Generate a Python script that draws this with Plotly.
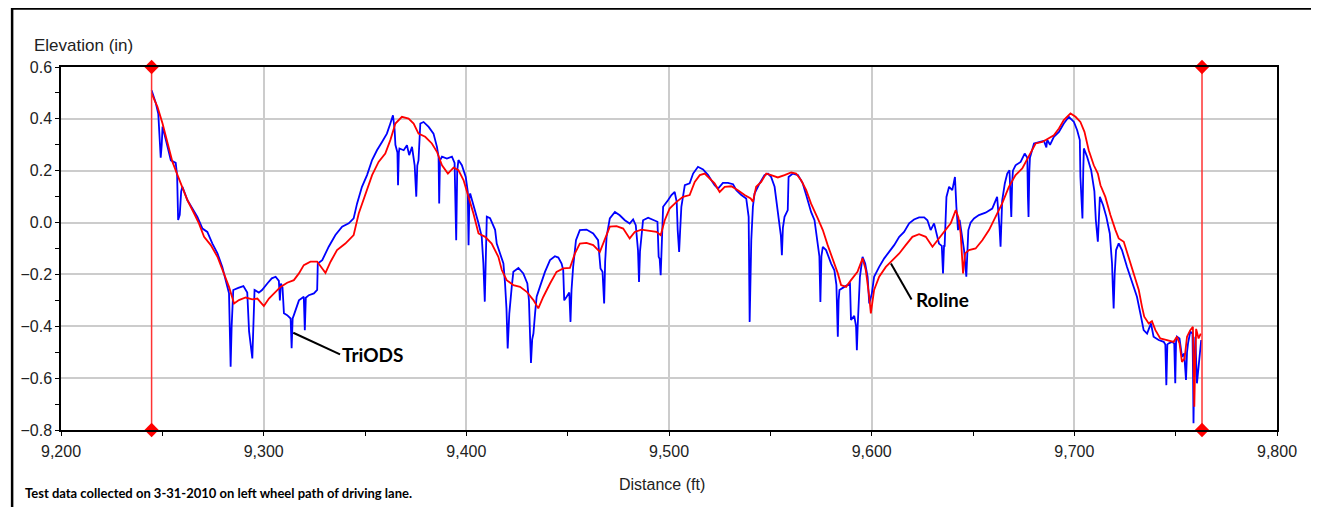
import plotly.graph_objects as go

# ---------------- data ----------------
triods_dist = [
    9244.7, 9246.8, 9248.0, 9248.6, 9249.2, 9249.7, 9250.1, 9251.7, 9254.2, 9256.6, 9257.3, 9257.8, 9258.6, 9259.3,
    9259.9, 9262.4, 9264.9, 9267.3, 9269.8, 9272.2, 9274.7, 9277.2, 9279.6, 9281.8, 9282.9, 9283.4, 9283.7, 9284.2,
    9285.0, 9287.5, 9290.0, 9291.9, 9292.8, 9294.4, 9294.9, 9295.5, 9297.6, 9299.2, 9301.8, 9304.0, 9305.9, 9307.5,
    9308.0, 9308.5, 9309.3, 9310.0, 9311.6, 9313.3, 9313.8, 9314.3, 9314.9, 9317.4, 9319.8, 9320.3, 9320.8, 9322.3,
    9324.8, 9326.4, 9326.7, 9328.9,
    9332.1, 9335.4, 9338.7, 9342.0, 9344.4, 9346.1, 9348.5, 9351.0, 9353.5, 9355.9, 9358.4, 9360.8, 9362.5, 9363.8,
    9364.6, 9365.0, 9366.0, 9366.3, 9366.7, 9367.0, 9369.1, 9370.7, 9371.8, 9373.2, 9374.5, 9375.3, 9375.8, 9376.4,
    9377.3, 9378.9, 9381.4, 9383.8, 9385.5, 9386.3, 9386.6, 9387.0, 9388.0, 9390.4, 9392.9, 9394.2, 9395.0, 9395.5,
    9396.1, 9397.8, 9399.7, 9400.7, 9401.1, 9401.5, 9401.9, 9404.3, 9406.0, 9407.6, 9408.4, 9409.1, 9409.6, 9410.1,
    9411.7, 9414.2, 9415.0, 9416.6,
    9418.3, 9419.1, 9419.8, 9420.4, 9421.2, 9422.4, 9423.2, 9425.7, 9428.1, 9430.1, 9430.9, 9431.5, 9431.9, 9432.5,
    9433.1, 9433.9, 9434.7, 9436.3, 9438.8, 9441.3, 9443.7, 9445.4, 9447.0, 9447.8, 9448.3, 9449.5, 9450.8, 9451.4,
    9451.9, 9452.7, 9454.1, 9456.0, 9459.3, 9462.6, 9465.0, 9466.2, 9467.2, 9468.0, 9468.5, 9469.2, 9470.8, 9473.3,
    9475.7, 9478.2, 9480.6, 9482.3, 9483.6, 9484.7, 9485.2, 9485.7, 9486.3, 9487.2, 9489.7, 9492.1, 9494.3, 9494.9,
    9495.4, 9495.9, 9496.3, 9496.6, 9497.1, 9499.5, 9501.2, 9502.8,
    9503.8, 9504.3, 9505.0, 9505.5, 9506.1, 9507.8, 9510.2, 9511.9, 9514.3, 9516.8, 9519.3, 9520.9, 9522.5, 9524.2,
    9526.6, 9529.1, 9531.6, 9533.2, 9535.7, 9538.1, 9539.3, 9539.8, 9540.3, 9540.6, 9541.4, 9542.2, 9544.7, 9547.1,
    9548.8, 9550.4, 9552.1, 9553.4, 9554.5, 9555.2, 9555.7, 9556.2, 9557.0, 9558.6, 9559.0, 9561.1, 9563.6, 9566.0,
    9567.7, 9570.1, 9571.8, 9573.4, 9574.2, 9574.7, 9575.2, 9575.9, 9577.5, 9580.0, 9581.6, 9582.6, 9583.3, 9583.7,
    9584.1, 9586.5, 9589.3,
    9589.8, 9591.4, 9592.3, 9592.7, 9593.1, 9593.5, 9594.2, 9595.5, 9596.8, 9598.0, 9598.8, 9600.1, 9601.2, 9603.7,
    9606.2, 9608.6, 9611.1, 9613.6, 9616.0, 9618.5, 9620.9, 9623.4, 9625.9, 9627.5, 9629.1, 9630.8, 9631.9, 9633.2,
    9634.6, 9635.2, 9635.7, 9636.0, 9636.9, 9638.2, 9639.8, 9641.1, 9641.8, 9642.6, 9643.4, 9644.7, 9645.6, 9646.7,
    9647.2, 9647.7, 9648.8, 9650.5, 9652.9, 9656.2, 9659.5, 9661.9, 9663.1, 9663.6, 9664.1, 9664.4, 9665.7, 9666.9,
    9668.0, 9668.5, 9668.9, 9669.3, 9669.7, 9671.0, 9673.5, 9675.5,
    9676.8, 9677.1, 9677.4, 9677.8, 9678.1, 9680.1, 9683.3, 9685.0, 9686.2, 9686.6, 9688.0, 9689.9, 9692.4, 9694.8,
    9697.3, 9699.8, 9701.4, 9702.7, 9703.0, 9703.6, 9704.0, 9704.4, 9704.7, 9706.3, 9708.3, 9709.9, 9710.6, 9711.6,
    9712.1, 9712.6, 9714.2, 9715.8, 9717.5, 9718.6, 9719.0, 9719.4, 9719.9, 9720.6, 9721.9, 9723.5, 9726.0, 9728.5,
    9730.9, 9732.9, 9734.2, 9735.9, 9737.8, 9739.1, 9741.6, 9744.1, 9744.9, 9745.4, 9745.9, 9746.5, 9748.2, 9749.3,
    9749.8, 9750.2, 9750.6, 9751.9, 9753.1, 9754.2, 9754.7, 9755.1, 9755.6, 9756.1, 9757.2, 9758.3, 9758.6, 9758.8,
    9759.1, 9759.7, 9760.5, 9761.6, 9762.6,
]
triods_elev = [
    0.51, 0.46, 0.42, 0.30, 0.25, 0.30, 0.37, 0.32, 0.24, 0.23, 0.18, 0.01, 0.03, 0.12,
    0.138, 0.086, 0.054, 0.022, -0.023, -0.036, -0.081, -0.119, -0.171, -0.235, -0.273, -0.45, -0.556, -0.40,
    -0.26, -0.252, -0.245, -0.27, -0.42, -0.524, -0.40, -0.26, -0.27, -0.26, -0.235, -0.215, -0.209, -0.225,
    -0.30, -0.235, -0.25, -0.35, -0.357, -0.37, -0.485, -0.37, -0.357, -0.30, -0.286, -0.415, -0.29, -0.28,
    -0.273, -0.26, -0.158, -0.145,
    -0.093, -0.048, -0.016, -0.003, 0.016, 0.074, 0.138, 0.183, 0.241, 0.279, 0.311, 0.343, 0.382, 0.414,
    0.36, 0.30, 0.27, 0.144, 0.27, 0.286, 0.279, 0.298, 0.26, 0.292, 0.221, 0.10, 0.22, 0.24,
    0.382, 0.388, 0.369, 0.343, 0.292, 0.254, 0.074, 0.24, 0.254, 0.247, 0.254, 0.23, -0.068, 0.20,
    0.241, 0.221, 0.176, 0.12, -0.087, 0.10, 0.112, 0.048, -0.003, -0.055, -0.158, -0.305, -0.10, 0.023,
    0.017, -0.028, -0.081, -0.119,
    -0.158, -0.235, -0.33, -0.486, -0.351, -0.248, -0.19, -0.175, -0.196, -0.235, -0.30, -0.45, -0.541, -0.45,
    -0.428, -0.351, -0.286, -0.248, -0.19, -0.145, -0.13, -0.135, -0.158, -0.183, -0.30, -0.286, -0.27, -0.383,
    -0.26, -0.171, -0.068, -0.029, -0.027, -0.042, -0.068, -0.177, -0.19, -0.312, -0.15, -0.055, 0.016, 0.041,
    0.028, 0.009, -0.004, 0.012, -0.01, -0.106, -0.229, -0.11, -0.05, 0.009, 0.019, 0.009, 0.003, -0.132,
    -0.14, -0.203, -0.10, -0.068, 0.061, 0.086, 0.106, 0.118,
    0.08, -0.03, -0.113, -0.03, 0.061, 0.144, 0.151, 0.189, 0.215, 0.205, 0.183, 0.163, 0.144, 0.131,
    0.153, 0.153, 0.148, 0.125, 0.106, 0.093, 0.022, -0.383, -0.10, -0.068, 0.061, 0.112, 0.151, 0.183,
    0.189, 0.176, 0.138, 0.061, -0.004, -0.05, -0.126, -0.02, 0.022, 0.048, 0.176, 0.189, 0.183, 0.151,
    0.106, 0.041, 0.009, -0.094, -0.13, -0.306, -0.13, -0.094, -0.106, -0.158, -0.184, -0.24, -0.44, -0.30,
    -0.26, -0.248, -0.235,
    -0.376, -0.36, -0.40, -0.492, -0.40, -0.338, -0.209, -0.132, -0.158, -0.209, -0.312, -0.273, -0.209, -0.171,
    -0.138, -0.113, -0.087, -0.055, -0.036, -0.003, 0.012, 0.02, 0.02, 0.009, -0.029, -0.003, -0.04, -0.081,
    -0.09, -0.196, -0.09, -0.09, 0.099, 0.138, 0.125, 0.176, 0.061, -0.029, 0.01, -0.055, -0.106, -0.209,
    -0.10, -0.029, 0.0, 0.016, 0.029, 0.038, 0.054, 0.099, -0.02, -0.093, 0.02, 0.085, 0.151, 0.189,
    0.202, 0.10, 0.022, 0.15, 0.20, 0.221, 0.234, 0.266,
    0.25, 0.10, 0.022, 0.20, 0.25, 0.305, 0.311, 0.315, 0.29, 0.32, 0.30, 0.331, 0.35, 0.382,
    0.408, 0.388, 0.356, 0.318, 0.176, 0.10, 0.016, 0.20, 0.286, 0.254, 0.202, 0.12, 0.01, -0.074,
    0.05, 0.099, 0.067, 0.022, -0.042, -0.158, -0.25, -0.331, -0.20, -0.106, -0.08, -0.106, -0.171, -0.228,
    -0.286, -0.363, -0.415, -0.428, -0.389, -0.44, -0.453, -0.46, -0.47, -0.627, -0.47, -0.466, -0.46, -0.466,
    -0.62, -0.46, -0.44, -0.447, -0.517, -0.505, -0.55, -0.607, -0.50, -0.466, -0.421, -0.428, -0.60, -0.774,
    -0.60, -0.44, -0.62, -0.543, -0.453,
]

roline_dist = [
    9244.7, 9247.6, 9250.1, 9252.5, 9255.0, 9257.5, 9259.9, 9262.4, 9265.7, 9268.1, 9270.6, 9273.9, 9277.2, 9280.4,
    9282.9, 9285.4, 9287.8, 9291.1, 9294.4, 9296.9, 9300.1, 9302.6, 9305.9, 9308.3, 9311.6, 9314.9, 9317.4, 9319.8,
    9323.1, 9326.4, 9328.9, 9330.5, 9333.0, 9336.2, 9340.3, 9344.4, 9346.9, 9350.2, 9353.5, 9356.7, 9360.0, 9362.5,
    9365.0, 9368.2, 9371.5, 9374.0, 9376.4, 9379.7, 9383.0, 9385.5, 9388.0, 9390.9, 9393.7, 9396.1, 9398.6, 9401.1,
    9403.5, 9406.0, 9409.3, 9412.5, 9415.8, 9417.5, 9419.9, 9423.2, 9426.5, 9429.8, 9433.1, 9435.5, 9438.0, 9441.3,
    9444.5, 9447.8, 9451.1, 9453.6, 9456.0, 9459.3, 9462.6, 9465.9, 9468.3, 9470.8, 9474.1, 9477.4, 9480.6, 9483.1,
    9486.4, 9490.5, 9493.8, 9495.9, 9497.9, 9500.3, 9503.7, 9506.9, 9510.2, 9512.7, 9515.2, 9517.6, 9520.1, 9522.5,
    9525.0, 9527.5, 9530.7, 9534.0, 9537.3, 9540.3, 9541.4, 9543.0, 9545.5, 9548.0, 9550.4, 9553.7, 9557.0, 9560.3,
    9562.7, 9565.2, 9567.7, 9570.1, 9573.4, 9575.9, 9578.3, 9580.8, 9583.3, 9584.9, 9587.4, 9589.8, 9593.0, 9595.5,
    9597.1, 9598.8, 9599.6, 9601.2, 9603.7, 9607.0, 9610.3, 9613.6, 9616.8, 9620.1, 9623.4, 9626.7, 9630.0, 9632.4,
    9635.7, 9639.0, 9641.5, 9642.8, 9643.9, 9645.1, 9646.1, 9648.0, 9651.3, 9654.6, 9657.9, 9661.1, 9664.4, 9667.7,
    9671.0, 9674.3, 9676.0, 9678.4, 9680.9, 9684.2, 9687.4, 9689.9, 9692.4, 9694.8, 9698.1, 9700.6, 9703.0, 9705.0,
    9707.1, 9709.6, 9711.6, 9712.9, 9715.3, 9717.8, 9720.3, 9721.9, 9724.4, 9726.8, 9729.3, 9731.8, 9733.4, 9734.5,
    9736.7, 9738.3, 9740.0, 9742.4, 9745.7, 9749.0, 9750.6, 9751.9, 9753.1, 9754.4, 9755.6, 9757.2, 9758.5, 9758.9,
    9759.2, 9759.6, 9760.1, 9761.3, 9762.4,
]
roline_elev = [
    0.498, 0.446, 0.382, 0.305, 0.234, 0.183, 0.138, 0.086, 0.035, -0.004, -0.055, -0.087, -0.132, -0.196,
    -0.248, -0.312, -0.299, -0.289, -0.296, -0.293, -0.322, -0.293, -0.267, -0.248, -0.232, -0.222, -0.196, -0.164,
    -0.151, -0.151, -0.177, -0.194, -0.151, -0.106, -0.081, -0.048, 0.035, 0.112, 0.183, 0.234, 0.266, 0.318,
    0.382, 0.408, 0.401, 0.382, 0.343, 0.331, 0.305, 0.273, 0.221, 0.189, 0.212, 0.202, 0.164, 0.099,
    0.035, -0.042, -0.055, -0.081, -0.132, -0.183, -0.222, -0.241, -0.248, -0.267, -0.299, -0.331, -0.286, -0.235,
    -0.19, -0.177, -0.175, -0.119, -0.081, -0.078, -0.087, -0.113, -0.068, -0.016, -0.014, -0.023, -0.061, -0.036,
    -0.027, -0.032, -0.036, -0.049, 0.009, 0.054, 0.08, 0.099, 0.106, 0.157, 0.183, 0.189, 0.17, 0.151,
    0.118, 0.138, 0.14, 0.125, 0.106, 0.093, 0.08, 0.138, 0.157, 0.189, 0.183, 0.174, 0.183, 0.193,
    0.189, 0.163, 0.125, 0.073, 0.016, -0.029, -0.087, -0.139, -0.196, -0.241, -0.248, -0.222, -0.19, -0.138,
    -0.183, -0.286, -0.35, -0.26, -0.209, -0.171, -0.145, -0.119, -0.087, -0.055, -0.045, -0.055, -0.093, -0.068,
    -0.036, -0.003, 0.048, 0.02, -0.042, -0.196, -0.119, -0.106, -0.10, -0.068, -0.029, 0.022, 0.074, 0.138,
    0.183, 0.209, 0.234, 0.273, 0.305, 0.311, 0.324, 0.337, 0.363, 0.395, 0.421, 0.408, 0.388, 0.35,
    0.279, 0.221, 0.189, 0.144, 0.099, 0.029, -0.029, -0.061, -0.074, -0.132, -0.196, -0.26, -0.325, -0.363,
    -0.389, -0.38, -0.415, -0.447, -0.453, -0.46, -0.44, -0.466, -0.537, -0.525, -0.44, -0.415, -0.402, -0.60,
    -0.71, -0.55, -0.41, -0.447, -0.428,
]

section_bounds = [9244.7, 9763.0]
x_ticks = [9200, 9300, 9400, 9500, 9600, 9700, 9800]
y_ticks = [-0.8, -0.6, -0.4, -0.2, 0.0, 0.2, 0.4, 0.6]
x_range = [9200, 9800]
y_range = [-0.8, 0.6]

# label leader lines (data coords)
triods_leader = [(9314.6, -0.425), (9337.7, -0.508)]
roline_leader = [(9609.5, -0.158), (9619.7, -0.297)]

# ---------------- figure ----------------
fig = go.Figure()

fig.add_trace(go.Scatter(x=triods_dist, y=triods_elev, mode="lines",
                         line=dict(color="#0000ff", width=1.8), name="TriODS", hoverinfo="skip"))
fig.add_trace(go.Scatter(x=roline_dist, y=roline_elev, mode="lines",
                         line=dict(color="#ff0000", width=1.8), name="Roline", hoverinfo="skip"))

for xb in section_bounds:
    fig.add_trace(go.Scatter(x=[xb, xb], y=y_range, mode="lines+markers",
                             line=dict(color="#ff3333", width=1.5),
                             marker=dict(symbol="diamond", size=11, color="#ff0000"),
                             cliponaxis=False, hoverinfo="skip"))

for (x0, y0), (x1, y1) in [triods_leader, roline_leader]:
    fig.add_shape(type="line", xref="x", yref="y", x0=x0, y0=y0, x1=x1, y1=y1,
                  line=dict(color="black", width=2))

label_font = dict(family="Lato, 'Open Sans', sans-serif", size=19, color="black")
fig.add_annotation(x=triods_leader[1][0], y=triods_leader[1][1], xref="x", yref="y",
                   text="<b>TriODS</b>", showarrow=False, xanchor="left", yanchor="middle",
                   xshift=0, font=label_font)
fig.add_annotation(x=roline_leader[1][0], y=roline_leader[1][1], xref="x", yref="y",
                   text="<b>Roline</b>", showarrow=False, xanchor="left", yanchor="middle",
                   xshift=2, font=label_font)

axis_font = dict(family="Liberation Sans, Arial, sans-serif", size=16, color="#222222")

fig.add_annotation(x=-0.024, y=1.06, xref="paper", yref="paper", text="Elevation (in)",
                   showarrow=False, xanchor="left", yanchor="middle",
                   font=dict(family="Liberation Sans, Arial, sans-serif", size=17, color="#222222"))
fig.add_annotation(x=0.494, y=-0.149, xref="paper", yref="paper", text="Distance (ft)",
                   showarrow=False, xanchor="center", yanchor="middle", font=axis_font)
fig.add_annotation(x=-0.031, y=-0.173, xref="paper", yref="paper",
                   text="<b>Test data collected on 3-31-2010 on left wheel path of driving lane.</b>",
                   showarrow=False, xanchor="left", yanchor="middle",
                   font=dict(family="Lato, sans-serif", size=13, color="black"))

# outer frame (page body has an 8px margin, so the figure starts at page pixel 8)
fig.add_shape(type="rect", xref="paper", yref="paper", x0=-0.0402, x1=1.0313, y0=-0.3, y1=1.161,
              line=dict(color="black", width=2.5), layer="above")

fig.update_xaxes(range=x_range, tickvals=x_ticks, tickformat=",d", showgrid=True,
                 gridcolor="#cccccc", gridwidth=1.5, showline=True, linecolor="black", linewidth=1.5,
                 mirror=True, ticks="outside", ticklen=4, tickcolor="black", tickfont=axis_font,
                 minor=dict(dtick=50, tick0=9200, ticks="outside", ticklen=4, tickcolor="black", showgrid=False),
                 zeroline=False, ticklabelstandoff=2)
fig.update_yaxes(range=y_range, tickvals=y_ticks, tickformat=".1f", showgrid=True,
                 gridcolor="#cccccc", gridwidth=1.5, showline=True, linecolor="black", linewidth=1.5,
                 mirror=True, ticks="outside", ticklen=4, tickcolor="black", tickfont=axis_font,
                 minor=dict(dtick=0.1, tick0=0, ticks="outside", ticklen=4, tickcolor="black", showgrid=False),
                 zeroline=False)

fig.update_layout(width=1311, height=499, margin=dict(l=50, r=42, t=59, b=77),
                  plot_bgcolor="white", paper_bgcolor="white", showlegend=False)

fig.write_html("out.html")
